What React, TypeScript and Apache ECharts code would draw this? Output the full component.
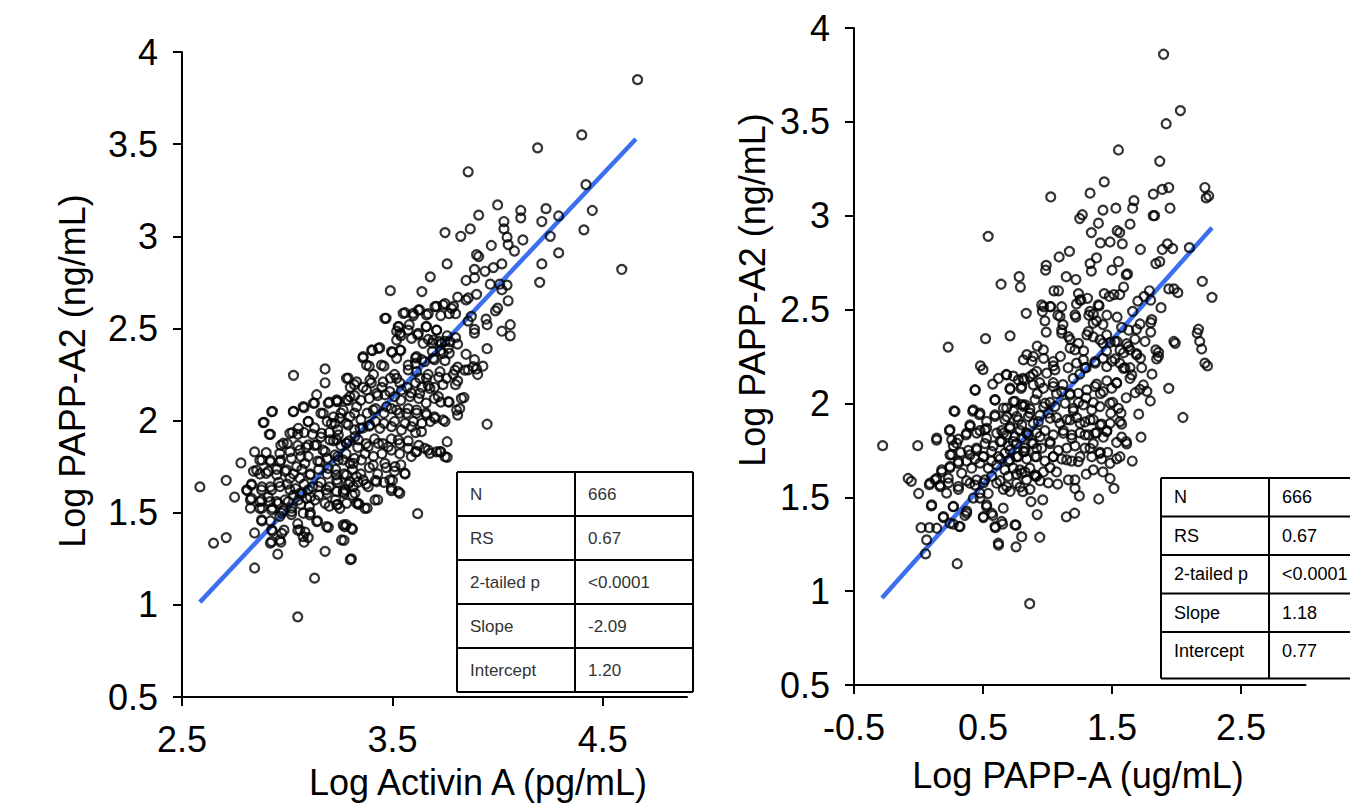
import React, { useEffect, useRef } from "react";
import * as echarts from "echarts";

const FONT = "'Liberation Sans', Arial, sans-serif";

// Left panel: Log Activin A (pg/mL) vs Log PAPP-A2 (ng/mL)
const activinPoints: [number, number][] = [
  [4.665,3.85],[4.40,3.55],[4.19,3.48],[3.86,3.35],[4.42,3.28],[4.00,3.17],[4.11,3.14],[4.23,3.15],[3.91,3.115],[4.11,3.10],
  [4.21,3.08],[4.29,3.11],[4.45,3.14],[4.03,3.08],[3.75,3.02],[3.87,3.04],[4.03,3.04],[3.825,3.00],[4.045,2.995],[4.12,2.98],
  [4.25,3.00],[4.41,3.035],[3.97,2.95],[4.05,2.955],[4.08,2.92],[3.90,2.90],[3.91,2.89],[4.29,2.91],[3.76,2.85],[4.21,2.85],
  [3.89,2.82],[3.94,2.81],[3.98,2.83],[4.02,2.85],[3.68,2.78],[3.85,2.76],[3.89,2.775],[3.965,2.74],[4.01,2.74],[4.045,2.735],
  [4.02,2.71],[4.20,2.75],[4.59,2.82],[3.49,2.705],[3.64,2.70],[3.81,2.67],[3.85,2.655],[3.86,2.665],[3.90,2.685],[4.05,2.65],
  [3.47,2.555],[3.56,2.585],[3.60,2.57],[3.63,2.60],[3.67,2.58],[3.71,2.62],[3.75,2.635],[3.79,2.62],[3.73,2.57],[3.77,2.58],
  [3.80,2.58],[3.99,2.595],[4.00,2.61],[3.875,2.565],[3.86,2.54],[3.945,2.55],[3.95,2.52],[4.06,2.52],[4.02,2.485],[4.06,2.46],
  [3.89,2.495],[3.89,2.475],[3.53,2.51],[3.58,2.52],[3.66,2.51],[3.52,2.485],[3.54,2.46],[3.62,2.465],[3.71,2.49],[3.67,2.44],
  [3.69,2.42],[3.72,2.43],[3.75,2.43],[3.76,2.46],[3.80,2.45],[3.81,2.415],[3.95,2.39],[3.405,2.38],[3.44,2.395],[3.36,2.34],
  [3.50,2.37],[3.54,2.38],[3.61,2.34],[3.64,2.33],[3.69,2.375],[3.73,2.38],[3.77,2.365],[3.70,2.33],[3.75,2.325],[3.85,2.36],
  [3.89,2.33],[3.93,2.295],[3.90,2.28],[3.86,2.275],[3.905,2.25],[3.81,2.29],[3.79,2.25],[3.81,2.215],[3.80,2.195],[3.84,2.125],
  [3.82,2.065],[3.81,2.03],[3.95,1.98],[3.39,2.295],[3.46,2.295],[3.41,2.25],[3.51,2.25],[3.575,2.275],[3.61,2.31],[3.63,2.23],
  [3.67,2.25],[3.72,2.235],[3.74,2.195],[3.70,2.18],[3.67,2.19],[3.64,2.18],[3.61,2.205],[3.57,2.18],[3.535,2.205],[3.49,2.23],
  [3.45,2.18],[3.40,2.205],[3.36,2.18],[3.32,2.195],[3.29,2.23],[3.30,2.18],[3.18,2.28],[3.03,2.245],[3.18,2.205],[3.14,2.14],
  [3.13,2.095],[3.20,2.10],[3.24,2.105],[3.29,2.11],[3.32,2.135],[3.35,2.11],[3.39,2.12],[3.43,2.135],[3.465,2.14],[3.51,2.13],
  [3.54,2.11],[3.59,2.15],[3.625,2.12],[3.66,2.095],[3.70,2.12],[3.73,2.10],[3.77,2.10],[3.08,2.07],[3.03,2.05],[2.93,2.05],
  [2.89,1.99],[2.92,1.925],[3.10,1.995],[3.13,1.96],[3.16,2.04],[3.19,1.995],[3.22,2.02],[3.255,2.04],[3.28,1.985],[3.32,2.04],
  [3.35,2.005],[3.38,2.04],[3.42,2.065],[3.46,2.04],[3.495,2.065],[3.535,2.04],[3.575,2.065],[3.615,2.04],[3.66,2.04],[3.70,2.02],
  [3.75,1.995],[3.68,1.995],[3.64,1.985],[3.60,1.995],[3.56,1.985],[3.51,1.995],[3.46,1.985],[3.42,1.995],[3.39,1.97],[3.36,1.96],
  [3.32,1.95],[3.24,1.95],[3.20,1.935],[3.16,1.91],[3.12,1.925],[3.08,1.935],[3.05,1.925],[3.025,1.935],[2.97,1.865],[3.00,1.875],
  [3.05,1.865],[3.09,1.855],[3.13,1.865],[3.17,1.84],[3.22,1.89],[3.255,1.865],[3.295,1.89],[3.335,1.855],[3.375,1.875],[3.415,1.90],
  [3.455,1.875],[3.495,1.90],[3.535,1.875],[3.575,1.89],[3.61,1.935],[3.625,1.865],[3.67,1.84],[3.71,1.83],[3.76,1.885],[3.76,1.80],
  [3.73,1.83],[3.61,1.83],[3.59,1.805],[3.535,1.82],[3.495,1.84],[3.45,1.82],[3.41,1.805],[3.37,1.82],[3.32,1.795],[3.28,1.82],
  [3.24,1.805],[3.19,1.795],[3.145,1.78],[3.10,1.805],[3.065,1.805],[3.02,1.795],[2.97,1.785],[2.92,1.785],[2.87,1.785],[2.845,1.83],
  [2.78,1.77],[2.84,1.725],[2.87,1.71],[2.91,1.725],[2.95,1.735],[2.99,1.725],[3.03,1.71],[3.07,1.735],[3.11,1.71],[3.15,1.735],
  [3.19,1.71],[3.23,1.735],[3.27,1.71],[3.31,1.735],[3.35,1.71],[3.39,1.745],[3.43,1.71],[3.47,1.745],[3.51,1.725],[3.54,1.76],
  [3.56,1.71],[3.50,1.675],[3.46,1.665],[3.42,1.675],[3.375,1.655],[3.335,1.665],[3.29,1.655],[3.24,1.665],[3.20,1.64],[3.16,1.665],
  [3.12,1.64],[3.08,1.655],[3.04,1.63],[3.00,1.655],[2.96,1.665],[2.92,1.64],[2.88,1.64],[2.83,1.655],[2.81,1.62],[2.75,1.585],
  [2.71,1.675],[2.585,1.64],[2.825,1.57],[2.87,1.56],[2.91,1.585],[2.95,1.56],[2.99,1.57],[3.03,1.595],[3.07,1.605],[3.11,1.585],
  [3.15,1.595],[3.19,1.605],[3.23,1.57],[3.27,1.605],[3.31,1.595],[3.38,1.525],[3.43,1.57],[3.495,1.62],[3.535,1.605],[3.34,1.545],
  [3.24,1.545],[3.20,1.535],[3.105,1.535],[3.065,1.545],[3.02,1.525],[2.98,1.51],[2.93,1.525],[2.88,1.525],[2.825,1.525],[3.02,1.49],
  [3.11,1.50],[3.145,1.455],[3.05,1.44],[2.965,1.48],[2.92,1.455],[2.88,1.455],[3.195,1.42],[3.28,1.435],[3.31,1.41],[3.62,1.495],
  [2.845,1.39],[2.93,1.40],[2.985,1.405],[3.05,1.405],[3.085,1.395],[2.92,1.335],[2.97,1.34],[3.08,1.34],[3.10,1.365],[3.27,1.35],
  [2.71,1.365],[2.65,1.335],[2.955,1.275],[3.18,1.29],[3.30,1.245],[3.305,1.25],[2.845,1.20],[3.13,1.145],[3.05,0.935]
];
// extra points read from the dense core of the left panel
const activinCorePoints: [number, number][] = [
  [2.90,1.826],[2.88,1.786],[2.92,1.777],[2.965,1.777],[2.855,1.73],[2.90,1.714],[2.95,1.705],[2.997,1.732],[3.045,1.75],[3.084,1.768],
  [3.013,1.687],[3.06,1.687],[3.108,1.705],[2.83,1.65],[2.878,1.624],[2.926,1.624],[2.966,1.642],[3.013,1.624],[3.06,1.605],[3.10,1.624],
  [3.148,1.642],[3.187,1.624],[3.235,1.615],[3.274,1.624],[3.314,1.642],[2.807,1.624],[2.83,1.578],[2.878,1.569],[2.918,1.56],[2.958,1.551],
  [3.005,1.56],[3.053,1.569],[3.092,1.578],[3.132,1.569],[3.18,1.551],[3.235,1.542],[3.282,1.551],[3.33,1.551],[2.87,1.524],[2.926,1.515],
  [2.974,1.497],[3.021,1.506],[3.076,1.497],[3.108,1.488],[3.25,1.524],[2.878,1.461],[2.926,1.407],[2.974,1.388],[3.06,1.407],[3.076,1.37],
  [3.14,1.452],[3.187,1.425],[3.266,1.434],[3.306,1.416],[3.258,1.352],[2.926,1.343],[2.965,1.352],[2.926,2.048],[3.029,2.048],[3.076,2.076],
  [2.886,1.989],[2.915,1.925],[2.981,1.877],[3.013,1.931],[3.053,1.958],[3.10,1.994],[3.124,2.094],[3.171,2.039],[3.195,2.094],[3.235,2.103],
  [3.282,2.112],[3.21,1.985],[3.25,2.012],[3.298,2.021],[3.163,1.931],[3.203,1.895],[3.243,1.922],[3.282,1.877],[3.322,1.913],[3.14,1.868],
  [3.18,1.831],[3.227,1.813],[3.266,1.786],[3.314,1.768],[3.156,1.777],[3.195,1.741],[3.235,1.705],[3.282,1.705],[3.33,1.696],[3.013,1.831],
  [3.06,1.84],[3.10,1.868],[2.965,1.822],[3.464,2.555],[3.551,2.582],[3.599,2.582],[3.623,2.60],[3.662,2.573],[3.702,2.618],[3.741,2.627],
  [3.781,2.609],[3.528,2.51],[3.575,2.491],[3.623,2.473],[3.662,2.51],[3.71,2.491],[3.536,2.473],[3.52,2.437],[3.591,2.446],[3.646,2.419],
  [3.694,2.437],[3.733,2.419],[3.773,2.428],[3.361,2.347],[3.401,2.383],[3.433,2.392],[3.377,2.301],[3.448,2.301],[3.496,2.374],[3.536,2.383],
  [3.52,2.338],[3.575,2.301],[3.615,2.347],[3.654,2.32],[3.694,2.338],[3.741,2.365],[3.765,2.392],[3.615,2.265],[3.662,2.229],[3.726,2.265],
  [3.757,2.229],[3.797,2.274],[3.844,2.274],[3.884,2.292],[3.33,2.21],[3.393,2.22],[3.456,2.21],[3.52,2.229],[3.282,2.229],[3.235,2.112],
  [3.298,2.13],[3.377,2.166],[3.425,2.148],[3.488,2.157],[3.543,2.166],[3.583,2.13],[3.63,2.148],[3.678,2.175],[3.718,2.13],[3.765,2.102],
  [3.805,2.057],[3.828,2.12],[3.266,2.057],[3.33,2.075],[3.409,2.057],[3.472,2.075],[3.52,2.057],[3.567,2.039],[3.615,2.057],[3.662,2.03],
  [3.702,2.012],[3.741,2.003],[3.227,1.985],[3.29,1.976],[3.346,1.958],[3.393,1.976],[3.44,1.958],[3.496,1.967],[3.543,1.949],[3.591,1.967],
  [3.638,1.94],[3.235,1.895],[3.282,1.876],[3.338,1.895],[3.385,1.858],[3.433,1.876],[3.48,1.858],[3.528,1.895],[3.575,1.849],[3.615,1.831],
  [3.654,1.849],[3.678,1.822],[3.726,1.831],[3.75,1.804],[3.243,1.786],[3.298,1.768],[3.353,1.786],[3.409,1.759],[3.464,1.768],[3.512,1.75],
  [3.559,1.714],[3.235,1.678],[3.298,1.668],[3.361,1.678],[3.425,1.668],[3.488,1.678],[3.496,1.632],[3.528,1.614],[3.266,1.614],[3.322,1.605],
  [3.385,1.641],[3.417,1.569],[3.338,1.551],[3.369,1.524],[3.274,1.424]
];
const activinFit: [number, number][] = [[2.585, 1.015], [4.657, 3.528]];

// Right panel: Log PAPP-A (ug/mL) vs Log PAPP-A2 (ng/mL)
const pappaPoints: [number, number][] = [
  [1.90,3.86],[2.03,3.56],[1.92,3.49],[1.55,3.35],[1.87,3.29],[1.44,3.18],[1.025,3.10],[1.33,3.12],[1.67,3.08],[1.82,3.115],
  [1.89,3.14],[1.94,3.15],[2.22,3.15],[2.23,3.095],[2.25,3.105],[1.53,3.04],[1.66,3.04],[1.43,3.03],[1.27,3.005],[1.25,2.985],
  [1.82,3.00],[1.83,3.00],[1.95,3.04],[0.54,2.89],[1.34,2.91],[1.395,2.96],[1.54,2.92],[1.56,2.91],[1.64,2.955],[1.41,2.855],
  [1.485,2.86],[1.58,2.85],[1.72,2.82],[1.89,2.82],[1.93,2.85],[1.97,2.825],[2.10,2.83],[1.17,2.81],[1.09,2.78],[0.99,2.735],
  [0.985,2.71],[0.78,2.675],[0.79,2.62],[0.64,2.635],[1.145,2.675],[1.22,2.66],[1.33,2.745],[1.34,2.705],[1.38,2.775],[1.50,2.71],
  [1.55,2.755],[1.62,2.69],[1.84,2.745],[1.87,2.755],[2.20,2.65],[2.275,2.565],[1.05,2.60],[1.085,2.60],[1.24,2.585],[1.225,2.53],
  [1.26,2.55],[1.31,2.56],[0.97,2.515],[0.96,2.49],[1.025,2.515],[1.11,2.515],[0.98,2.44],[0.99,2.38],[0.835,2.48],[1.08,2.47],
  [1.12,2.42],[1.22,2.46],[1.40,2.52],[1.44,2.585],[1.48,2.57],[1.515,2.58],[1.56,2.58],[1.59,2.62],[1.61,2.685],[1.66,2.49],
  [1.70,2.545],[1.75,2.57],[1.79,2.60],[1.80,2.55],[1.88,2.51],[1.94,2.61],[1.98,2.61],[2.01,2.59],[1.32,2.47],[1.355,2.475],
  [1.38,2.44],[1.43,2.42],[1.46,2.47],[1.54,2.46],[1.575,2.405],[1.63,2.39],[1.69,2.395],[1.80,2.43],[1.80,2.38],[2.16,2.375],
  [2.17,2.395],[2.18,2.33],[2.195,2.29],[2.22,2.215],[2.24,2.20],[1.98,2.33],[1.99,2.32],[1.84,2.285],[1.86,2.25],[0.23,2.30],
  [0.52,2.345],[0.71,2.36],[1.11,2.375],[1.175,2.34],[1.175,2.295],[1.24,2.32],[1.28,2.28],[1.305,2.365],[1.355,2.355],[1.43,2.32],
  [1.485,2.325],[1.54,2.33],[1.59,2.27],[1.64,2.285],[1.69,2.265],[1.72,2.24],[1.73,2.19],[1.64,2.19],[1.56,2.215],[1.50,2.225],
  [1.43,2.24],[1.37,2.215],[1.29,2.19],[1.225,2.215],[1.16,2.19],[1.10,2.25],[1.045,2.20],[0.97,2.24],[0.92,2.305],[0.84,2.26],
  [0.88,2.225],[0.82,2.125],[0.48,2.20],[0.50,2.18],[0.44,2.07],[0.275,1.96],[0.24,1.855],[0.14,1.805],[-0.006,1.775],[-0.278,1.775],
  [-0.08,1.60],[-0.056,1.585],[0.001,1.52],[0.084,1.567],[0.10,1.454],[0.02,1.338],[0.084,1.338],[0.063,1.273],[0.055,1.199],[0.30,1.146],
  [0.862,0.933],[0.62,1.245],[0.756,1.236],[0.94,1.287],[0.92,1.408],[1.146,1.396],[1.21,1.415],[1.397,1.491],[1.247,1.507],[1.213,1.547],
  [1.515,1.547],[1.485,1.60],[1.43,1.635],[1.657,1.693],[1.536,1.705],[1.725,1.82],[2.05,1.925],[1.94,2.08],[1.797,2.013],[1.707,1.943],
  [1.81,2.156],[1.77,2.064],[1.68,2.057],[1.61,2.03],[1.57,1.948],[1.575,1.89],[1.536,1.792],[1.61,1.797],[1.46,1.855],[1.49,1.948],
  [1.505,2.005],[1.536,2.11],[1.46,2.12],[1.38,2.103],[1.41,2.052],[1.355,2.005],[1.30,2.03],[1.24,2.005],[1.20,1.96],[1.175,2.052],
  [1.12,2.10],[1.07,2.052],[1.02,2.005],[0.97,1.982],[0.94,2.11],[0.89,2.156],[0.81,2.133],[0.735,2.145],[0.68,2.154],[0.62,2.133],
  [0.575,2.103],[0.71,2.075],[0.795,2.08],[0.92,2.052],[1.045,2.11],[1.20,2.133],[1.25,2.156],[1.30,2.19],[0.593,2.017],[0.658,1.975],
  [0.735,1.959],[0.80,1.994],[0.864,1.971],[0.94,1.936],[1.006,1.948],[1.07,1.924],[1.149,1.913],[1.226,1.924],[1.29,1.901],[1.355,1.913],
  [1.42,1.89],[1.433,1.82],[1.38,1.843],[1.317,1.832],[1.252,1.843],[1.187,1.832],[1.123,1.855],[1.045,1.832],[0.98,1.855],[0.916,1.843],
  [0.851,1.832],[0.787,1.855],[0.71,1.867],[0.645,1.855],[0.593,1.931],[0.528,1.867],[0.477,1.855],[0.42,1.959],[0.472,1.94],[0.40,1.878],
  [0.368,1.832],[0.309,1.809],[0.257,1.727],[0.27,1.774],[0.327,1.739],[0.386,1.75],[0.45,1.762],[0.516,1.786],[0.58,1.774],[0.632,1.797],
  [0.696,1.774],[0.76,1.786],[0.826,1.762],[0.89,1.786],[0.955,1.762],[1.02,1.786],[1.084,1.75],[1.149,1.762],[1.213,1.774],[1.29,1.762],
  [1.355,1.786],[1.407,1.739],[1.343,1.716],[1.252,1.716],[1.187,1.693],[1.11,1.704],[1.045,1.716],[0.98,1.693],[0.916,1.716],[0.839,1.704],
  [0.76,1.716],[0.696,1.693],[0.632,1.704],[0.567,1.693],[0.503,1.716],[0.438,1.704],[0.373,1.693],[0.309,1.681],[0.244,1.658],[0.18,1.635],
  [0.14,1.60],[0.167,1.565],[0.231,1.577],[0.309,1.542],[0.373,1.588],[0.438,1.565],[0.503,1.577],[0.567,1.612],[0.632,1.588],[0.696,1.612],
  [0.76,1.623],[0.826,1.635],[0.903,1.612],[0.968,1.635],[1.02,1.658],[1.07,1.635],[1.006,1.577],[0.942,1.588],[0.864,1.542],[0.787,1.554],
  [0.71,1.531],[0.658,1.542],[0.54,1.52],[0.477,1.496],[0.425,1.496],[0.528,1.45],[0.575,1.403],[0.503,1.392],[0.373,1.426],[0.36,1.403],
  [0.27,1.45],[0.27,1.357],[0.193,1.392],[0.316,1.345],[0.596,1.338],[0.652,1.357],[0.756,1.352],[0.808,1.53],[0.872,1.477],[0.963,1.486],
  [1.079,1.57],[1.162,1.593],[1.213,1.593],[1.30,1.623],[1.355,1.646],[1.42,1.704],[1.485,1.681],[1.562,1.716],[1.575,1.82],[1.614,1.785],
  [1.466,1.739],[1.717,2.075],[1.743,2.098],[1.64,2.133],[1.60,2.19],[1.523,2.237],[1.458,2.279],[1.614,2.318],[1.678,2.342],[1.756,2.33],
  [1.717,2.423],[1.808,2.446],[1.86,2.272],[1.846,2.237]
];
// extra points read from the dense core of the right panel
const pappaCorePoints: [number, number][] = [
  [0.244,1.86],[0.296,1.788],[0.399,1.886],[0.373,1.842],[0.451,1.842],[0.515,1.86],[0.528,1.815],[0.606,1.842],[0.645,1.797],[0.683,1.833],
  [0.735,1.797],[0.80,1.815],[0.838,1.842],[0.877,1.788],[0.244,1.726],[0.309,1.691],[0.399,1.726],[0.451,1.753],[0.503,1.717],[0.567,1.744],
  [0.619,1.717],[0.67,1.735],[0.709,1.70],[0.773,1.717],[0.825,1.744],[0.903,1.717],[0.18,1.646],[0.244,1.664],[0.335,1.628],[0.412,1.655],
  [0.477,1.682],[0.541,1.655],[0.606,1.673],[0.67,1.646],[0.735,1.655],[0.80,1.628],[0.864,1.655],[0.128,1.593],[0.231,1.602],[0.309,1.557],
  [0.399,1.575],[0.451,1.593],[0.515,1.593],[0.606,1.575],[0.683,1.557],[0.761,1.575],[0.838,1.593],[0.916,1.611],[0.089,1.575],[0.167,1.557],
  [0.218,1.522],[0.477,1.522],[0.528,1.46],[0.567,1.415],[0.503,1.397],[0.657,1.442],[0.593,1.344],[0.27,1.451],[0.373,1.415],[0.322,1.344],
  [0.244,1.362],[0.141,1.335],[0.102,1.46],[0.193,1.397],[0.645,1.371],[0.748,1.353],[0.80,1.29],[0.619,1.255],[0.438,2.073],[0.593,2.02],
  [0.683,1.975],[0.748,2.011],[0.813,1.984],[0.864,1.948],[0.761,1.93],[0.67,1.913],[0.593,1.939],[0.528,1.904],[0.709,1.877],[0.80,1.886],
  [0.89,1.895],[0.425,1.966],[0.477,1.948],[0.283,1.957],[0.257,1.806],[0.141,1.815],[0.684,2.152],[0.774,2.125],[0.865,2.143],[0.916,2.17],
  [0.994,2.161],[1.058,2.179],[0.71,2.081],[0.80,2.09],[0.89,2.099],[0.968,2.081],[1.045,2.09],[1.11,2.063],[1.175,2.045],[1.239,2.054],
  [1.304,2.072],[1.368,2.09],[1.433,2.063],[1.498,2.081],[1.536,2.108],[0.735,2.01],[0.826,1.992],[0.903,2.019],[0.981,2.001],[1.058,1.983],
  [1.136,2.001],[1.20,1.974],[1.278,1.992],[1.343,1.965],[1.407,1.983],[1.485,2.001],[1.549,1.974],[0.684,1.93],[0.774,1.912],[0.852,1.93],
  [0.929,1.903],[1.02,1.921],[1.097,1.894],[1.175,1.912],[1.252,1.894],[1.33,1.912],[1.407,1.885],[1.485,1.894],[1.562,1.903],[0.658,1.841],
  [0.748,1.823],[0.839,1.841],[0.942,1.823],[1.02,1.797],[1.123,1.841],[1.188,1.814],[1.291,1.832],[1.368,1.841],[1.459,1.85],[0.71,1.752],
  [0.813,1.743],[0.916,1.761],[1.045,1.717],[1.149,1.699],[1.239,1.69],[1.33,1.761],[1.407,1.734],[0.787,1.646],[0.903,1.619],[0.955,2.525],
  [1.02,2.516],[1.097,2.463],[1.11,2.392],[1.162,2.356],[1.213,2.472],[1.252,2.552],[1.33,2.49],[1.394,2.525],[1.355,2.427],[1.317,2.383],
  [1.407,2.339],[1.459,2.365],[1.523,2.33],[1.562,2.285],[1.627,2.303],[1.691,2.259],[1.213,2.285],[1.278,2.232],[1.368,2.223],[1.459,2.196],
  [1.588,2.187],[1.653,2.152],[1.045,2.223],[0.968,2.285],[0.89,2.25],[0.813,2.232]
];
const pappaFit: [number, number][] = [[-0.283, 0.964], [2.275, 2.936]];

const leftXTicks = [2.5, 3.5, 4.5];
const rightXTicks = [-0.5, 0.5, 1.5, 2.5];

const tableLabels = ["N", "RS", "2-tailed p", "Slope", "Intercept"];
const leftTableValues = ["666", "0.67", "<0.0001", "-2.09", "1.20"];
const rightTableValues = ["666", "0.67", "<0.0001", "1.18", "0.77"];

const xNameLeft = "Log Activin A (pg/mL)";
const xNameRight = "Log PAPP-A (ug/mL)";
const yName = "Log PAPP-A2 (ng/mL)";

function buildTable(x0: number, xMid: number, x1: number, y0: number, rowH: number, lastExtra: number, values: string[], fontSize: number, color: string, closedRight: boolean) {
  const els: any[] = [];
  const lineStyle = { stroke: "#000", lineWidth: 2 };
  const n = tableLabels.length;
  const yEnd = y0 + rowH * n + lastExtra;
  for (let i = 0; i <= n; i++) {
    const y = i === n ? yEnd : y0 + rowH * i;
    els.push({ type: "line", shape: { x1: x0, y1: y, x2: x1, y2: y }, style: lineStyle });
  }
  els.push({ type: "line", shape: { x1: x0, y1: y0, x2: x0, y2: yEnd }, style: lineStyle });
  els.push({ type: "line", shape: { x1: xMid, y1: y0, x2: xMid, y2: yEnd }, style: lineStyle });
  if (closedRight) els.push({ type: "line", shape: { x1: x1, y1: y0, x2: x1, y2: yEnd }, style: lineStyle });
  tableLabels.forEach((lab, i) => {
    const cy = y0 + rowH * (i + 0.5);
    els.push({ type: "text", x: x0 + 13, y: cy, style: { text: lab, fill: color, font: `${fontSize}px ${FONT}`, textAlign: "left", textVerticalAlign: "middle" } });
    els.push({ type: "text", x: xMid + 13, y: cy, style: { text: values[i], fill: color, font: `${fontSize}px ${FONT}`, textAlign: "left", textVerticalAlign: "middle" } });
  });
  return els;
}

export default function App() {
  const ref = useRef<HTMLDivElement>(null);
  useEffect(() => {
    document.body.style.margin = "0";
    if (!ref.current) return;
    const chart = echarts.init(ref.current, undefined, { renderer: "svg" });
    const axisLine = { show: true, onZero: false, lineStyle: { color: "#000", width: 2 } };
    const axisTick = (vals?: number[]) => ({ show: true, inside: false, length: 9, lineStyle: { color: "#000", width: 2 }, ...(vals ? { customValues: vals } : {}) });
    const label = (margin: number, vals?: number[]) => ({ fontSize: 36, color: "#000", fontFamily: FONT, margin, ...(vals ? { customValues: vals } : {}) });
    const symbolStyle = { color: "rgba(0,0,0,0)", borderColor: "#000", borderWidth: 2.2 };
    const option: any = {
      animation: false,
      backgroundColor: "#fff",
      grid: [
        { left: 182, top: 52, width: 505, height: 645 },
        { left: 854, top: 28, width: 451.5, height: 657 },
      ],
      xAxis: [
        { gridIndex: 0, type: "value", min: 2.5, max: 4.9, axisLine, axisTick: axisTick(leftXTicks), axisLabel: label(24, leftXTicks), splitLine: { show: false } },
        { gridIndex: 1, type: "value", min: -0.5, max: 3.0, axisLine, axisTick: axisTick(rightXTicks), axisLabel: label(24, rightXTicks), splitLine: { show: false } },
      ],
      yAxis: [
        { gridIndex: 0, type: "value", min: 0.5, max: 4, interval: 0.5, axisLine, axisTick: axisTick(), axisLabel: label(24), splitLine: { show: false } },
        { gridIndex: 1, type: "value", min: 0.5, max: 4, interval: 0.5, axisLine, axisTick: axisTick(), axisLabel: label(24), splitLine: { show: false } },
      ],
      series: [
        { type: "line", xAxisIndex: 0, yAxisIndex: 0, data: activinFit, symbol: "none", lineStyle: { color: "#3b6ff0", width: 4.5 }, z: 1 },
        { type: "scatter", xAxisIndex: 0, yAxisIndex: 0, data: activinPoints.concat(activinCorePoints), symbol: "circle", symbolSize: 9, itemStyle: symbolStyle, z: 2 },
        { type: "line", xAxisIndex: 1, yAxisIndex: 1, data: pappaFit, symbol: "none", lineStyle: { color: "#3b6ff0", width: 4.5 }, z: 1 },
        { type: "scatter", xAxisIndex: 1, yAxisIndex: 1, data: pappaPoints.concat(pappaCorePoints), symbol: "circle", symbolSize: 9, itemStyle: symbolStyle, z: 2 },
      ],
      graphic: [
        { type: "text", x: 478, y: 782, style: { text: xNameLeft, font: `36px ${FONT}`, fill: "#000", textAlign: "center", textVerticalAlign: "middle" } },
        { type: "text", x: 1078, y: 775, style: { text: xNameRight, font: `36px ${FONT}`, fill: "#000", textAlign: "center", textVerticalAlign: "middle" } },
        { type: "text", x: 72, y: 371, rotation: Math.PI / 2, style: { text: yName, font: `36px ${FONT}`, fill: "#000", textAlign: "center", textVerticalAlign: "middle" } },
        { type: "text", x: 752, y: 290, rotation: Math.PI / 2, style: { text: yName, font: `36px ${FONT}`, fill: "#000", textAlign: "center", textVerticalAlign: "middle" } },
        ...buildTable(457, 575, 693, 472, 44, 0, leftTableValues, 17, "#333", true),
        ...buildTable(1161, 1269, 1360, 478, 38.5, 8, rightTableValues, 18, "#000", false),
      ],
    };
    chart.setOption(option);
    return () => chart.dispose();
  }, []);
  return <div ref={ref} style={{ position: "absolute", left: 0, top: 0, width: 1350, height: 808 }} />;
}
